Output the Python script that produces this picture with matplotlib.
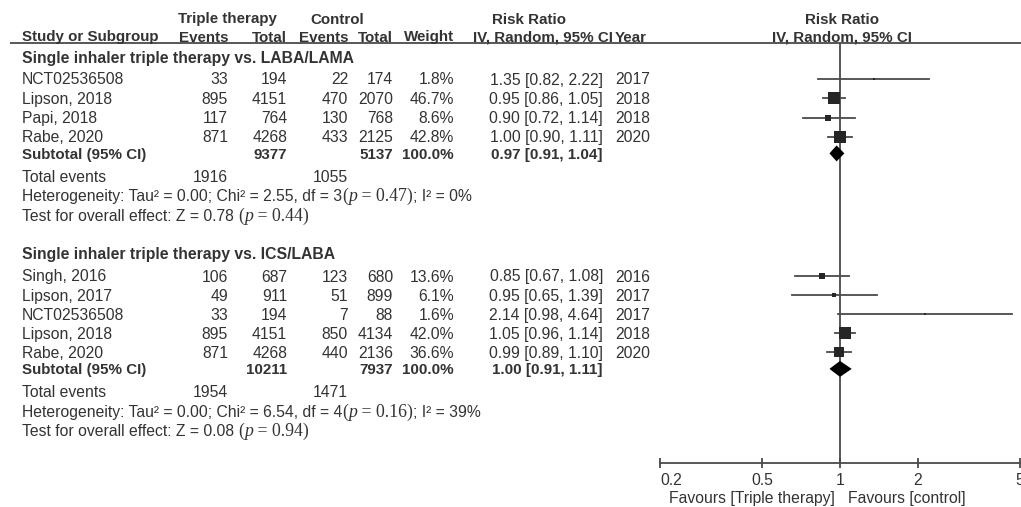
import matplotlib
matplotlib.use("Agg")
import matplotlib.pyplot as plt
import numpy as np

plt.rcParams["font.family"] = ["Liberation Sans", "DejaVu Sans"]

# ---- data -------------------------------------------------------------
g1_title = "Single inhaler triple therapy vs. LABA/LAMA"
g1_study = ["NCT02536508", "Lipson, 2018", "Papi, 2018", "Rabe, 2020"]
g1_ev_t = [33, 895, 117, 871]
g1_tot_t = [194, 4151, 764, 4268]
g1_ev_c = [22, 470, 130, 433]
g1_tot_c = [174, 2070, 768, 2125]
g1_weight = [1.8, 46.7, 8.6, 42.8]
g1_rr = [1.35, 0.95, 0.90, 1.00]
g1_lo = [0.82, 0.86, 0.72, 0.90]
g1_hi = [2.22, 1.05, 1.14, 1.11]
g1_year = [2017, 2018, 2018, 2020]
g1_sub = {"tot_t": 9377, "tot_c": 5137, "rr": 0.97, "lo": 0.91, "hi": 1.04,
          "ev_t": 1916, "ev_c": 1055, "tau2": "0.00", "chi2": "2.55", "df": 3,
          "p_het": "0.47", "i2": "0%", "z": "0.78", "p_z": "0.44"}

g2_title = "Single inhaler triple therapy vs. ICS/LABA"
g2_study = ["Singh, 2016", "Lipson, 2017", "NCT02536508", "Lipson, 2018", "Rabe, 2020"]
g2_ev_t = [106, 49, 33, 895, 871]
g2_tot_t = [687, 911, 194, 4151, 4268]
g2_ev_c = [123, 51, 7, 850, 440]
g2_tot_c = [680, 899, 88, 4134, 2136]
g2_weight = [13.6, 6.1, 1.6, 42.0, 36.6]
g2_rr = [0.85, 0.95, 2.14, 1.05, 0.99]
g2_lo = [0.67, 0.65, 0.98, 0.96, 0.89]
g2_hi = [1.08, 1.39, 4.64, 1.14, 1.10]
g2_year = [2016, 2017, 2017, 2018, 2020]
g2_sub = {"tot_t": 10211, "tot_c": 7937, "rr": 1.00, "lo": 0.91, "hi": 1.11,
          "ev_t": 1954, "ev_c": 1471, "tau2": "0.00", "chi2": "6.54", "df": 4,
          "p_het": "0.16", "i2": "39%", "z": "0.08", "p_z": "0.94"}

axis_ticks = [0.2, 0.5, 1, 2, 5]
axis_tick_labels = ["0.2", "0.5", "1", "2", "5"]

# ---- layout -----------------------------------------------------------
W, H = 1021, 507
TXT = "#333333"
LINE = "#4a4a4a"
FS = 11.3      # body text
FS_B = 10.9    # column headers and subtotal rows

fig = plt.figure(figsize=(W / 100, H / 100), dpi=100)
tax = fig.add_axes([0, 0, 1, 1])
tax.set_xlim(0, W)
tax.set_ylim(H, 0)
tax.axis("off")

ax = fig.add_axes([660 / W, 0, 360 / W, 1])
ax.set_xscale("log")
ax.set_xlim(0.2, 5)
ax.set_ylim(H, 0)
ax.patch.set_alpha(0)

renderer = fig.canvas.get_renderer()
BASE = 5.5  # baseline offset from visual row centre

X_STUDY = 22
X_EV_T, X_TOT_T, X_EV_C, X_TOT_C, X_W = 228, 287, 348, 393, 454
X_RR, X_YEAR = 603, 615


def put(x, y, s, ha="left", bold=False, size=None, **kw):
    if size is None:
        size = FS_B if bold else FS
    return tax.text(x, y + BASE, s, ha=ha, va="baseline", fontsize=size,
                    color=TXT, fontweight="bold" if bold else "normal", **kw)


def put_pieces(x, y, pieces):
    for s, props in pieces:
        t = tax.text(x, y + BASE, s, ha="left", va="baseline", color=TXT, **props)
        x += t.get_window_extent(renderer).width


# header
put(227, 18, "Triple therapy", ha="center", bold=True)
put(337, 18, "Control", ha="center", bold=True)
put(529, 18, "Risk Ratio", ha="center", bold=True)
put(842, 18, "Risk Ratio", ha="center", bold=True)
put(X_STUDY, 36, "Study or Subgroup", bold=True)
put(X_EV_T, 36, "Events", ha="right", bold=True)
put(X_TOT_T, 36, "Total", ha="right", bold=True)
put(X_EV_C, 36, "Events", ha="right", bold=True)
put(X_TOT_C, 36, "Total", ha="right", bold=True)
put(X_W, 36, "Weight", ha="right", bold=True)
put(473, 36, "IV, Random, 95% CI", bold=True)
put(X_YEAR, 36, "Year", bold=True)
put(842, 36, "IV, Random, 95% CI", ha="center", bold=True)
tax.plot([10, W], [43, 43], color=LINE, lw=1.3, solid_capstyle="butt")

sans = {"fontsize": FS, "family": ["Liberation Sans", "DejaVu Sans"]}
serif = {"fontsize": FS + 1.5, "family": "Liberation Serif"}
serif_it = {"fontsize": FS + 1.5, "family": "Liberation Serif", "style": "italic"}


def draw_group(y_head, y0, step, title, study, ev_t, tot_t, ev_c, tot_c,
               weight, rr, lo, hi, year, sub):
    put(X_STUDY, y_head, title, bold=True, size=FS)
    rows = [y0 + step * i for i in range(len(study))]
    for i, y in enumerate(rows):
        put(X_STUDY, y, study[i])
        put(X_EV_T, y, f"{ev_t[i]}", ha="right")
        put(X_TOT_T, y, f"{tot_t[i]}", ha="right")
        put(X_EV_C, y, f"{ev_c[i]}", ha="right")
        put(X_TOT_C, y, f"{tot_c[i]}", ha="right")
        put(X_W, y, f"{weight[i]:.1f}%", ha="right")
        put(X_RR, y, f"{rr[i]:.2f} [{lo[i]:.2f}, {hi[i]:.2f}]", ha="right")
        put(X_YEAR, y, f"{year[i]}")
        ax.plot([lo[i], hi[i]], [y, y], color=LINE, lw=1.3, zorder=3)
        ax.plot([rr[i]], [y], marker="s", linestyle="none", color="#262626",
                markersize=max(1.3, 1.25 * np.sqrt(weight[i])), zorder=4,
                markeredgewidth=0)
    y_sub = rows[-1] + 16.5
    put(X_STUDY, y_sub, "Subtotal (95% CI)", bold=True)
    put(X_TOT_T, y_sub, f"{sub['tot_t']}", ha="right", bold=True)
    put(X_TOT_C, y_sub, f"{sub['tot_c']}", ha="right", bold=True)
    put(X_W, y_sub, "100.0%", ha="right", bold=True)
    put(X_RR - 1, y_sub, f"{sub['rr']:.2f} [{sub['lo']:.2f}, {sub['hi']:.2f}]",
        ha="right", bold=True)
    ax.fill([sub["lo"], sub["rr"], sub["hi"], sub["rr"]],
            [y_sub, y_sub - 8, y_sub, y_sub + 8], color="black", lw=0, zorder=4)
    y_te = y_sub + 23
    put(X_STUDY, y_te, "Total events")
    put(X_EV_T, y_te, f"{sub['ev_t']}", ha="right")
    put(X_EV_C, y_te, f"{sub['ev_c']}", ha="right")
    y_het = y_te + 19.5
    put_pieces(X_STUDY, y_het, [
        (f"Heterogeneity: Tau\u00b2 = {sub['tau2']}; Chi\u00b2 = {sub['chi2']}, "
         f"df = {sub['df']}", sans),
        ("(", serif), ("p", serif_it), (f" = {sub['p_het']})", serif),
        (f"; I\u00b2 = {sub['i2']}", sans),
    ])
    y_test = y_het + 19.5
    put_pieces(X_STUDY, y_test, [
        (f"Test for overall effect: Z = {sub['z']} ", sans),
        ("(", serif), ("p", serif_it), (f" = {sub['p_z']})", serif),
    ])


draw_group(58, 79, 19.3, g1_title, g1_study, g1_ev_t, g1_tot_t, g1_ev_c,
           g1_tot_c, g1_weight, g1_rr, g1_lo, g1_hi, g1_year, g1_sub)
draw_group(253, 276, 19.1, g2_title, g2_study, g2_ev_t, g2_tot_t, g2_ev_c,
           g2_tot_c, g2_weight, g2_rr, g2_lo, g2_hi, g2_year, g2_sub)

# line of no effect
ax.vlines(1, 43, 463, color=LINE, lw=1.3, zorder=2)

# horizontal risk-ratio axis
for side in ("top", "left", "right"):
    ax.spines[side].set_visible(False)
ax.spines["bottom"].set_position(("data", 463))
ax.spines["bottom"].set_color(LINE)
ax.spines["bottom"].set_linewidth(1.3)
ax.set_yticks([])
ax.xaxis.set_minor_locator(matplotlib.ticker.NullLocator())
ax.set_xticks(axis_ticks, labels=axis_tick_labels)
ax.tick_params(axis="x", direction="inout", length=7, width=1.3, color=LINE,
               labelsize=FS, labelcolor=TXT, pad=4)
for lbl in ax.get_xticklabels():
    if lbl.get_text() == axis_tick_labels[0]:
        lbl.set_horizontalalignment("left")

put(835, 498, "Favours [Triple therapy]", ha="right")
put(848, 498, "Favours [control]")

fig.savefig("out.png", dpi=100)
